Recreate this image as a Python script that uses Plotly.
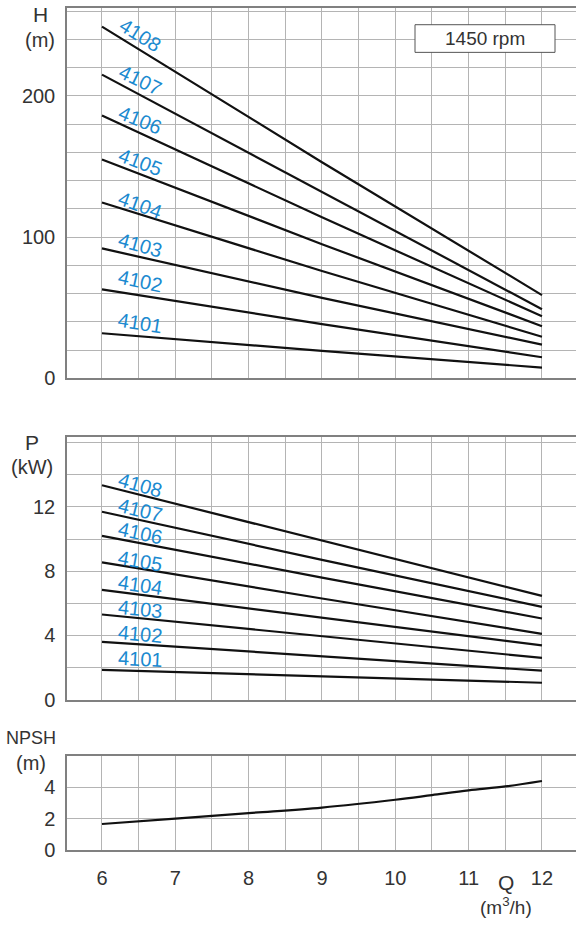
import plotly.graph_objects as go

# ---------------- data ----------------
models = ["4101", "4102", "4103", "4104", "4105", "4106", "4107", "4108"]
Q_pts = [6, 9, 12]
H_at_6 = [32, 63, 92, 124.5, 155, 186, 215, 249]
H_at_9 = [19.5, 38.5, 57, 76, 95, 114, 132, 153]
H_at_12 = [7.7, 15, 24, 29.5, 37, 44, 49, 59]
P_at_6 = [1.85, 3.6, 5.3, 6.83, 8.55, 10.2, 11.7, 13.35]
P_at_9 = [1.45, 2.7, 3.95, 5.1, 6.3, 7.6, 8.7, 9.9]
P_at_12 = [1.05, 1.8, 2.6, 3.38, 4.1, 5.05, 5.78, 6.46]
Q_npsh = [6, 7, 8, 9, 10, 10.5, 11, 11.5, 12]
NPSH = [1.65, 2.0, 2.35, 2.7, 3.2, 3.5, 3.8, 4.05, 4.4]
x_tick_labels = [6, 7, 8, 9, 10, 11, 12]
H_ticks = [0, 100, 200]
P_ticks = [0, 4, 8, 12]
N_ticks = [0, 2, 4]

# label placement (style)
H_label_y = [39.5, 69, 94.5, 123, 153, 183, 211, 243]
H_label_ang = [9, 12, 16, 20, 21, 22, 26, 32]
P_label_y = [2.5, 4.1, 5.65, 7.15, 8.65, 10.35, 11.8, 13.35]
P_label_ang = [3, 5, 6, 8, 10, 12, 14, 16]

W, Hh = 576, 930
FONT = "Liberation Sans, Arial, sans-serif"
TXT = "#333333"
GRID = "#b4b4b4"
FRAME = "#808080"
BLUE = "#1b8ad0"

def ydom(top_px, bot_px):
    return [1 - bot_px / Hh, 1 - top_px / Hh]

XRANGE = [5.523, 12.464]
XDOM = [67 / W, 1.0]

fig = go.Figure()

for i, m in enumerate(models):
    fig.add_trace(go.Scatter(x=Q_pts, y=[H_at_6[i], H_at_9[i], H_at_12[i]],
                             mode="lines", line=dict(color="#111111", width=2.2),
                             xaxis="x", yaxis="y", showlegend=False, name=m))
    fig.add_trace(go.Scatter(x=Q_pts, y=[P_at_6[i], P_at_9[i], P_at_12[i]],
                             mode="lines", line=dict(color="#111111", width=2.2),
                             xaxis="x2", yaxis="y2", showlegend=False, name=m))
fig.add_trace(go.Scatter(x=Q_npsh, y=NPSH, mode="lines",
                         line=dict(color="#111111", width=2.2, shape="spline"),
                         xaxis="x3", yaxis="y3", showlegend=False, name="NPSH"))

def xax(anchor, labels):
    return dict(domain=XDOM, range=XRANGE, anchor=anchor,
                showline=True, linecolor=FRAME, linewidth=1.5, mirror=True,
                showgrid=True, gridcolor=GRID, gridwidth=1,
                tickmode="array", tickvals=x_tick_labels,
                ticktext=[str(v) for v in x_tick_labels],
                showticklabels=labels, ticks="", ticklabelstandoff=9,
                tickfont=dict(family=FONT, size=20, color=TXT),
                minor=dict(tickmode="linear", tick0=5.5, dtick=0.5, showgrid=True,
                           gridcolor=GRID, gridwidth=1, ticks=""),
                zeroline=False, fixedrange=True)

def yax(anchor, dom, rng, ticks, minor_dt):
    return dict(domain=dom, range=rng, anchor=anchor,
                showline=True, linecolor=FRAME, linewidth=1.5, mirror=False,
                showgrid=True, gridcolor=GRID, gridwidth=1,
                tickmode="array", tickvals=ticks, ticktext=[str(t) for t in ticks],
                ticks="", ticklabelstandoff=6,
                tickfont=dict(family=FONT, size=20, color=TXT),
                minor=dict(tickmode="linear", tick0=0, dtick=minor_dt, showgrid=True,
                           gridcolor=GRID, gridwidth=1, ticks=""),
                zeroline=False, fixedrange=True)

annotations = []
for i, m in enumerate(models):
    annotations.append(dict(x=6.52, y=H_label_y[i], xref="x", yref="y", text=m,
                             showarrow=False, textangle=H_label_ang[i],
                             font=dict(family=FONT, size=20, color=BLUE)))
    annotations.append(dict(x=6.52, y=P_label_y[i], xref="x2", yref="y2", text=m,
                             showarrow=False, textangle=P_label_ang[i],
                             font=dict(family=FONT, size=20, color=BLUE)))

def ptxt(text, px, py, size=18):
    annotations.append(dict(x=px / W, y=1 - py / Hh, xref="paper", yref="paper",
                            text=text, showarrow=False, xanchor="center", yanchor="middle",
                            font=dict(family=FONT, size=size, color=TXT)))

ptxt("H", 40, 15, 21)
ptxt("(m)", 40, 40, 20)
ptxt("P", 32, 448, 21)
ptxt("(kW)", 32, 473, 20)
ptxt("NPSH", 31, 747, 18)
ptxt("(m)", 31, 772, 20)
ptxt("Q", 506, 893, 21)
ptxt("(m<sup>3</sup>/h)", 506, 917, 19)
ptxt("1450 rpm", 485, 39, 19)

shapes = [dict(type="rect", xref="paper", yref="paper",
               x0=415 / W, x1=555 / W, y0=1 - 53 / Hh, y1=1 - 25 / Hh,
               line=dict(color="#555555", width=1), fillcolor="white")]

fig.update_layout(
    width=W, height=Hh,
    margin=dict(l=0, r=0, t=0, b=0),
    paper_bgcolor="white", plot_bgcolor="white",
    xaxis=xax("y", False),
    xaxis2=xax("y2", False),
    xaxis3=xax("y3", True),
    yaxis=yax("x", ydom(8, 383), [0, 262.2], H_ticks, 20),
    yaxis2=yax("x2", ydom(442, 708), [0, 16.37], P_ticks, 2),
    yaxis3=yax("x3", ydom(765, 860), [0, 6.0], N_ticks, 2),
    annotations=annotations,
    shapes=shapes,
    showlegend=False,
)

fig.write_html("out.html")
